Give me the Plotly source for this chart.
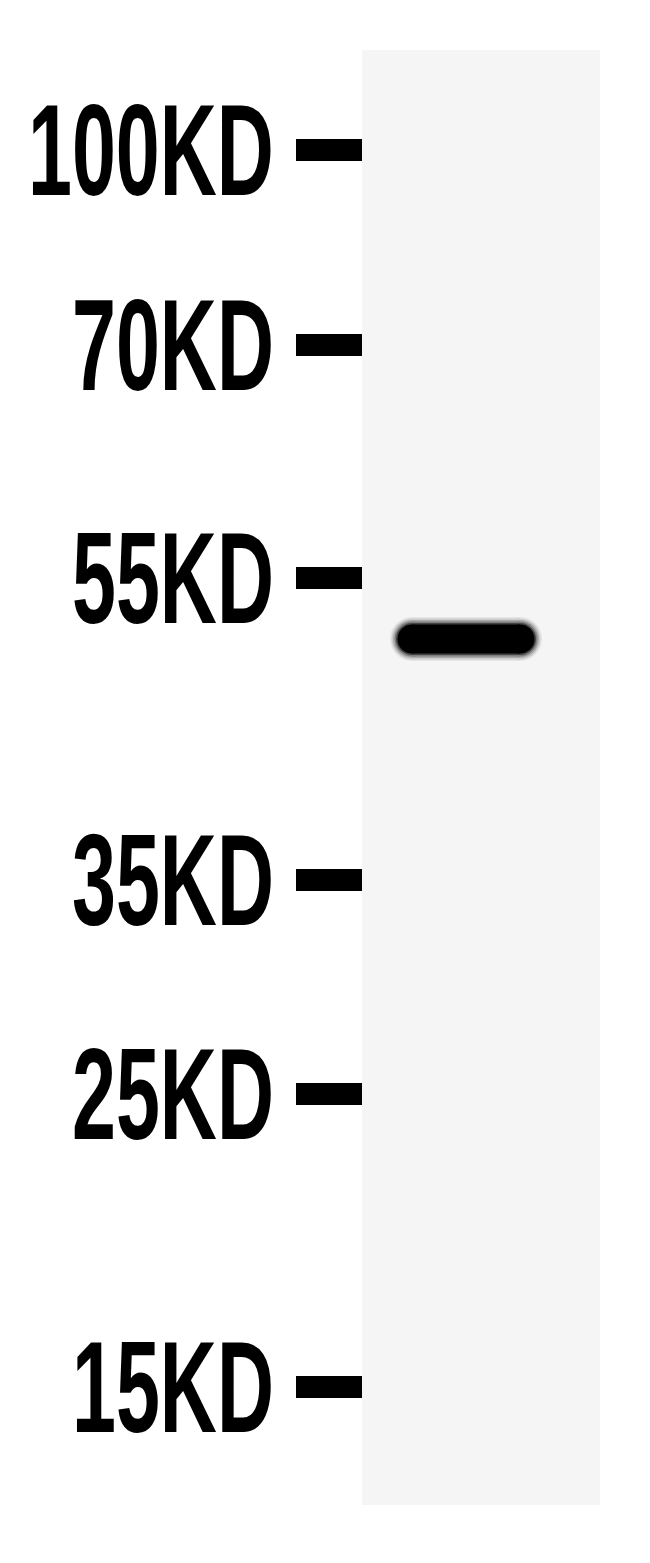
import plotly.graph_objects as go

# ladder markers (kD) and where they ran on the membrane (pixels from top)
marker_labels = ["100KD", "70KD", "55KD", "35KD", "25KD", "15KD"]
marker_pos = [150, 345, 578, 880, 1094, 1387]

# the one detected band
band_pos = [639]
band_lane = [466]

fig = go.Figure()

# lane background
fig.add_shape(type="rect", x0=362, x1=600, y0=50, y1=1505,
              fillcolor="#f5f5f5", line_width=0, layer="below")

# ladder dashes and labels
for lab, y in zip(marker_labels, marker_pos):
    fig.add_trace(go.Scatter(x=[296, 362], y=[y, y], mode="lines",
                             line=dict(color="black", width=22),
                             hoverinfo="skip", showlegend=False))
    fig.add_annotation(x=276, y=y, text=lab, showarrow=False,
                       xanchor="right", yanchor="middle",
                       font=dict(family="Liberation Sans, Arial, sans-serif",
                                 size=79, color="black", weight="bold"))

# band, drawn as soft layers with rounded ends
for w, op in [(44, 0.06), (41, 0.1), (38, 0.16), (35, 0.25), (32, 0.45), (29, 1.0)]:
    fig.add_trace(go.Scatter(
        x=[band_lane[0] - 54, band_lane[0] + 54], y=[band_pos[0], band_pos[0]],
        mode="lines+markers", opacity=op,
        line=dict(color="black", width=w),
        marker=dict(color="black", size=w, line_width=0),
        hoverinfo="skip", showlegend=False))

# page body has an 8px margin, so the ranges are shifted to line up
fig.update_layout(
    width=650, height=1563,
    margin=dict(l=0, r=0, t=0, b=0),
    paper_bgcolor="white", plot_bgcolor="white",
    xaxis=dict(range=[8, 658], visible=False),
    yaxis=dict(range=[1571, 8], visible=False),
)

# labels in the blot are tall and narrow: stretch them vertically
stretch = """
document.querySelectorAll('.annotation-text').forEach(function(t){
  t.style.transformBox='fill-box';
  t.style.transformOrigin='center';
  t.style.transform='scaleY(1.64)';
});
"""

fig.write_html("out.html", post_script=stretch)
